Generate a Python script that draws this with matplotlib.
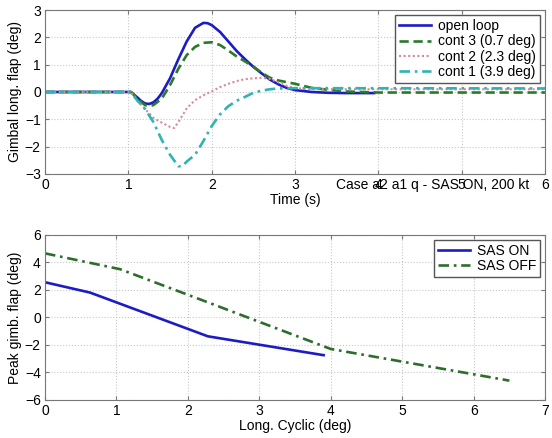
import matplotlib
matplotlib.use("Agg")
import matplotlib.pyplot as plt

plt.rcParams["font.family"] = ["Liberation Sans", "DejaVu Sans"]

# --- top panel: time histories ---
t_open = [0, 1.03, 1.1, 1.15, 1.2, 1.25, 1.3, 1.35, 1.4, 1.5, 1.6, 1.7, 1.8, 1.9,
          1.95, 2.0, 2.1, 2.2, 2.3, 2.4, 2.5, 2.6, 2.7, 2.8, 2.9, 3.0, 3.2, 3.4, 3.6, 3.95]
v_open = [0, 0, -0.18, -0.32, -0.42, -0.44, -0.38, -0.25, -0.05, 0.5, 1.2, 1.85, 2.35, 2.53,
          2.52, 2.45, 2.2, 1.85, 1.5, 1.2, 0.92, 0.68, 0.45, 0.28, 0.15, 0.07, 0.0, -0.03, -0.04, -0.04]

t_c3 = [0, 1.03, 1.1, 1.15, 1.2, 1.25, 1.3, 1.4, 1.5, 1.6, 1.7, 1.8, 1.9, 2.0, 2.1, 2.2,
        2.3, 2.4, 2.5, 2.6, 2.7, 2.8, 3.0, 3.2, 3.4, 3.6, 4.0, 6.0]
v_c3 = [0, 0, -0.2, -0.36, -0.48, -0.52, -0.48, -0.25, 0.25, 0.85, 1.35, 1.65, 1.8, 1.82, 1.72, 1.52,
        1.3, 1.12, 0.93, 0.7, 0.52, 0.42, 0.3, 0.15, 0.08, 0.02, -0.02, -0.02]

t_c2 = [0, 1.03, 1.1, 1.2, 1.3, 1.4, 1.5, 1.55, 1.6, 1.7, 1.8, 1.9, 2.0, 2.1, 2.2, 2.3,
        2.4, 2.5, 2.6, 2.7, 2.8, 2.9, 3.0, 3.2, 3.5, 6.0]
v_c2 = [0, 0, -0.3, -0.62, -0.95, -1.12, -1.28, -1.32, -1.1, -0.6, -0.3, -0.12, 0.02, 0.18, 0.3, 0.4,
        0.47, 0.5, 0.52, 0.48, 0.35, 0.22, 0.14, 0.1, 0.1, 0.1]

t_c1 = [0, 1.03, 1.1, 1.2, 1.3, 1.4, 1.5, 1.6, 1.65, 1.7, 1.8, 1.9, 2.0, 2.1, 2.2, 2.3,
        2.4, 2.5, 2.6, 2.7, 2.8, 3.0, 6.0]
v_c1 = [0, 0, -0.28, -0.62, -1.1, -1.75, -2.3, -2.72, -2.72, -2.55, -2.3, -1.8, -1.25, -0.82, -0.52, -0.32,
        -0.18, -0.03, 0.05, 0.1, 0.13, 0.14, 0.13]

# --- bottom panel: peak flap vs cyclic ---
cyc_on = [0, 0.63, 2.28, 3.9]
peak_on = [2.55, 1.8, -1.38, -2.75]
cyc_off = [0, 1.05, 2.3, 4.0, 6.5]
peak_off = [4.65, 3.5, 1.05, -2.3, -4.6]

fig = plt.figure(figsize=(5.52, 4.38), dpi=100)
ax1 = fig.add_axes([0.0815, 0.603, 0.906, 0.374])
ax2 = fig.add_axes([0.0815, 0.087, 0.906, 0.377])

ax1.plot(t_open, v_open, color="#1c1cc4", lw=1.9, label="open loop")
ax1.plot(t_c3, v_c3, color="#2a7a2a", lw=1.9, ls=(0, (3.5, 1.8)), label="cont 3 (0.7 deg)")
ax1.plot(t_c2, v_c2, color="#d98a9a", lw=1.5, ls=(0, (1, 1.2)), label="cont 2 (2.3 deg)")
ax1.plot(t_c1, v_c1, color="#2fb3b3", lw=1.9, ls=(0, (4, 1.8, 1, 1.8)), label="cont 1 (3.9 deg)")
ax1.set_xlim(0, 6)
ax1.set_ylim(-3, 3)
ax1.set_xticks(range(0, 7))
ax1.set_yticks(range(-3, 4))
ax1.set_xlabel("Time (s)", fontsize=10, labelpad=1)
ax1.set_ylabel("Gimbal long. flap (deg)", fontsize=10, labelpad=2)
ax1.text(0.776, -0.068, "Case a2 a1 q - SAS ON, 200 kt", transform=ax1.transAxes,
         ha="center", va="center", fontsize=10)
ax1.legend(loc="upper right", fontsize=10, frameon=True, fancybox=False, edgecolor="#555555",
           handlelength=2.3, borderpad=0.3, labelspacing=0.1, handletextpad=0.5,
           borderaxespad=0.35, framealpha=1)

ax2.plot(cyc_on, peak_on, color="#1c1cc4", lw=1.9, label="SAS ON")
ax2.plot(cyc_off, peak_off, color="#2d6e2d", lw=1.9, ls=(0, (4, 1.8, 1, 1.8)), label="SAS OFF")
ax2.set_xlim(0, 7)
ax2.set_ylim(-6, 6)
ax2.set_xticks(range(0, 8))
ax2.set_yticks(range(-6, 7, 2))
ax2.set_xlabel("Long. Cyclic (deg)", fontsize=10, labelpad=1)
ax2.set_ylabel("Peak gimb. flap (deg)", fontsize=10, labelpad=2)
ax2.legend(loc="upper right", fontsize=10, frameon=True, fancybox=False, edgecolor="#555555",
           handlelength=2.3, borderpad=0.3, labelspacing=0.1, handletextpad=0.5,
           borderaxespad=0.35, framealpha=1)

for ax in (ax1, ax2):
    ax.grid(True, color="#c8c8c8", ls=":", lw=0.8)
    ax.tick_params(direction="in", top=True, right=True, labelsize=10, length=3,
                   color="#777777", pad=3)
    for s in ax.spines.values():
        s.set_color("#777777")

fig.savefig("out.png", dpi=100)
